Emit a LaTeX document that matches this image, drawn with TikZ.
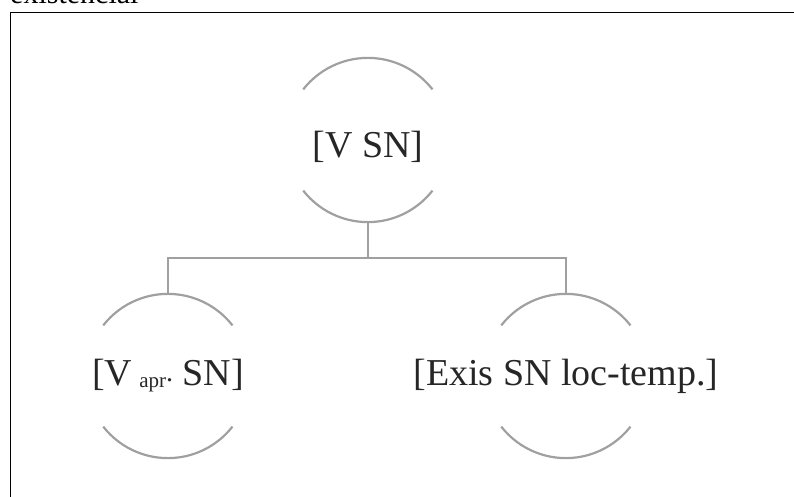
\documentclass[tikz,border=0pt]{standalone}
\usepackage{fontspec}
\setmainfont{Liberation Serif}
\definecolor{arcgray}{HTML}{A0A0A0}
\definecolor{txt}{HTML}{262626}
\begin{document}
\begin{tikzpicture}[x=1pt,y=1pt,
  arcline/.style={draw=arcgray,line width=2.2pt},
  frameline/.style={draw=black,line width=0.9pt},
  circnode/.style={circle,minimum size=164pt,inner sep=0pt},
  labeltext/.style={inner sep=0pt,text=txt,font=\fontsize{38}{40}\selectfont}]
\useasboundingbox (0,0) rectangle (794,-497);
% caption fragment at top
\node[anchor=base west,inner sep=0pt,font=\fontsize{30}{32}\selectfont,text=black] (cap) at (10,-4) {existencial};
% frame
\coordinate (ftl) at (10,-12);
\coordinate (ftr) at (794,-12);
\coordinate (fbl) at (10,-497);
\draw[frameline] (ftr) -- (ftl) -- (fbl);
% circles (anchors for arcs)
\node[circnode] (topc) at (368,-140) {};
\node[circnode] (leftc) at (168,-376) {};
\node[circnode] (rightc) at (566,-376) {};
% texts
\node[labeltext] (topt) at ([yshift=-7pt]topc.center) {[V SN]};
\node[labeltext] (leftt) at (leftc.center) {[V\hspace{7pt}\raisebox{-2pt}{\fontsize{21}{21}\selectfont apr}{\fontsize{28}{28}\selectfont\raisebox{4pt}{.}} SN]};
\node[labeltext] (rightt) at (rightc.center) {[Exis SN loc-temp.]};
% arcs
\foreach \n in {topc,leftc,rightc}{
  \draw[arcline] (\n.142) arc[start angle=142,end angle=38,radius=82pt];
  \draw[arcline] (\n.218) arc[start angle=218,end angle=322,radius=82pt];
}
% connectors
\coordinate (junc) at (368,-258);
\draw[arcline] (topc.south) -- (junc);
\draw[arcline] (junc) -| (leftc.north);
\draw[arcline] (junc) -| (rightc.north);
\end{tikzpicture}
\end{document}
